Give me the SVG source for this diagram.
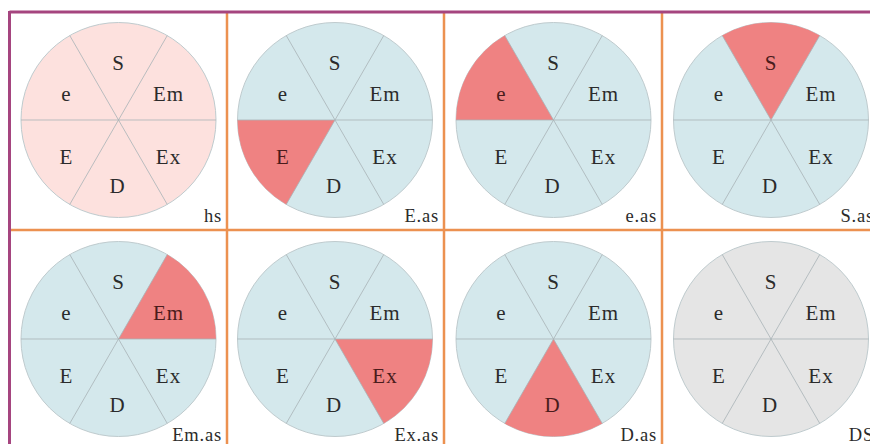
<svg xmlns="http://www.w3.org/2000/svg" xmlns:xlink="http://www.w3.org/1999/xlink" width="870" height="444" viewBox="0 0 870 444">
<style>
.bg{fill:#ffffff}
.disk{stroke:#bfcbce;stroke-width:1}
.blue{fill:#d4e8ec}
.pink{fill:#fde1de}
.grey{fill:#e5e5e5}
.hl{fill:#ef8282}
.grid{stroke:#a9b3b6;stroke-width:1;fill:none;opacity:0.8}
.lab{font-family:"Liberation Serif","Times New Roman",serif;font-size:21px;letter-spacing:1px;fill:#2b2b2b;text-anchor:middle}
.lab.r{fill:#4a1c1c}
.tag{font-family:"Liberation Serif","Times New Roman",serif;font-size:18.5px;letter-spacing:0.8px;fill:#2b2b2b;text-anchor:end}
.purple{stroke:#a5457f;stroke-width:3;fill:none}
.orange{stroke:#ec9150;stroke-width:2.5;fill:none}
</style>
<defs>
<path id="lines" d="M-97.5,0 H97.5 M-48.75,-84.44 L48.75,84.44 M48.75,-84.44 L-48.75,84.44"/>
</defs>
<rect class="bg" x="0" y="0" width="870" height="444"/>

<g id="panel-hs" transform="translate(118.5,120)">
<circle class="disk pink" r="97.5"/>
<use xlink:href="#lines" class="grid"/>
<text class="lab" x="0" y="-50">S</text>
<text class="lab" x="-52" y="-19">e</text>
<text class="lab" x="50" y="-19">Em</text>
<text class="lab" x="-52" y="44">E</text>
<text class="lab" x="50" y="44">Ex</text>
<text class="lab" x="-1" y="73">D</text>
<text class="tag" x="103.5" y="102">hs</text>
</g>

<g id="panel-E-as" transform="translate(335,120)">
<circle class="disk blue" r="97.5"/>
<path class="hl" d="M0,0 L-48.75,84.44 A97.5,97.5 0 0 1 -97.5,0 Z"/>
<use xlink:href="#lines" class="grid"/>
<text class="lab" x="0" y="-50">S</text>
<text class="lab" x="-52" y="-19">e</text>
<text class="lab" x="50" y="-19">Em</text>
<text class="lab r" x="-52" y="44">E</text>
<text class="lab" x="50" y="44">Ex</text>
<text class="lab" x="-1" y="73">D</text>
<text class="tag" x="104" y="102">E.as</text>
</g>

<g id="panel-e-as" transform="translate(553.5,120)">
<circle class="disk blue" r="97.5"/>
<path class="hl" d="M0,0 L-97.5,0 A97.5,97.5 0 0 1 -48.75,-84.44 Z"/>
<use xlink:href="#lines" class="grid"/>
<text class="lab" x="0" y="-50">S</text>
<text class="lab r" x="-52" y="-19">e</text>
<text class="lab" x="50" y="-19">Em</text>
<text class="lab" x="-52" y="44">E</text>
<text class="lab" x="50" y="44">Ex</text>
<text class="lab" x="-1" y="73">D</text>
<text class="tag" x="103.5" y="102">e.as</text>
</g>

<g id="panel-S-as" transform="translate(771,120)">
<circle class="disk blue" r="97.5"/>
<path class="hl" d="M0,0 L-48.75,-84.44 A97.5,97.5 0 0 1 48.75,-84.44 Z"/>
<use xlink:href="#lines" class="grid"/>
<text class="lab r" x="0" y="-50">S</text>
<text class="lab" x="-52" y="-19">e</text>
<text class="lab" x="50" y="-19">Em</text>
<text class="lab" x="-52" y="44">E</text>
<text class="lab" x="50" y="44">Ex</text>
<text class="lab" x="-1" y="73">D</text>
<text class="tag" x="103" y="102">S.as</text>
</g>

<g id="panel-Em-as" transform="translate(118.5,339)">
<circle class="disk blue" r="97.5"/>
<path class="hl" d="M0,0 L48.75,-84.44 A97.5,97.5 0 0 1 97.5,0 Z"/>
<use xlink:href="#lines" class="grid"/>
<text class="lab" x="0" y="-50">S</text>
<text class="lab" x="-52" y="-19">e</text>
<text class="lab r" x="50" y="-19">Em</text>
<text class="lab" x="-52" y="44">E</text>
<text class="lab" x="50" y="44">Ex</text>
<text class="lab" x="-1" y="73">D</text>
<text class="tag" x="103.5" y="102">Em.as</text>
</g>

<g id="panel-Ex-as" transform="translate(335,339)">
<circle class="disk blue" r="97.5"/>
<path class="hl" d="M0,0 L97.5,0 A97.5,97.5 0 0 1 48.75,84.44 Z"/>
<use xlink:href="#lines" class="grid"/>
<text class="lab" x="0" y="-50">S</text>
<text class="lab" x="-52" y="-19">e</text>
<text class="lab" x="50" y="-19">Em</text>
<text class="lab" x="-52" y="44">E</text>
<text class="lab r" x="50" y="44">Ex</text>
<text class="lab" x="-1" y="73">D</text>
<text class="tag" x="104" y="102">Ex.as</text>
</g>

<g id="panel-D-as" transform="translate(553.5,339)">
<circle class="disk blue" r="97.5"/>
<path class="hl" d="M0,0 L48.75,84.44 A97.5,97.5 0 0 1 -48.75,84.44 Z"/>
<use xlink:href="#lines" class="grid"/>
<text class="lab" x="0" y="-50">S</text>
<text class="lab" x="-52" y="-19">e</text>
<text class="lab" x="50" y="-19">Em</text>
<text class="lab" x="-52" y="44">E</text>
<text class="lab" x="50" y="44">Ex</text>
<text class="lab r" x="-1" y="73">D</text>
<text class="tag" x="103.5" y="102">D.as</text>
</g>

<g id="panel-DS" transform="translate(771,339)">
<circle class="disk grey" r="97.5"/>
<use xlink:href="#lines" class="grid"/>
<text class="lab" x="0" y="-50">S</text>
<text class="lab" x="-52" y="-19">e</text>
<text class="lab" x="50" y="-19">Em</text>
<text class="lab" x="-52" y="44">E</text>
<text class="lab" x="50" y="44">Ex</text>
<text class="lab" x="-1" y="73">D</text>
<text class="tag" x="103" y="102">DS</text>
</g>

<g id="frame">
<path class="orange" d="M227,12 V444 M444,12 V444 M662,12 V444 M9,230 H870"/>
<path class="purple" d="M9.5,12 H870 M9.5,11 V444"/>
</g>
</svg>
